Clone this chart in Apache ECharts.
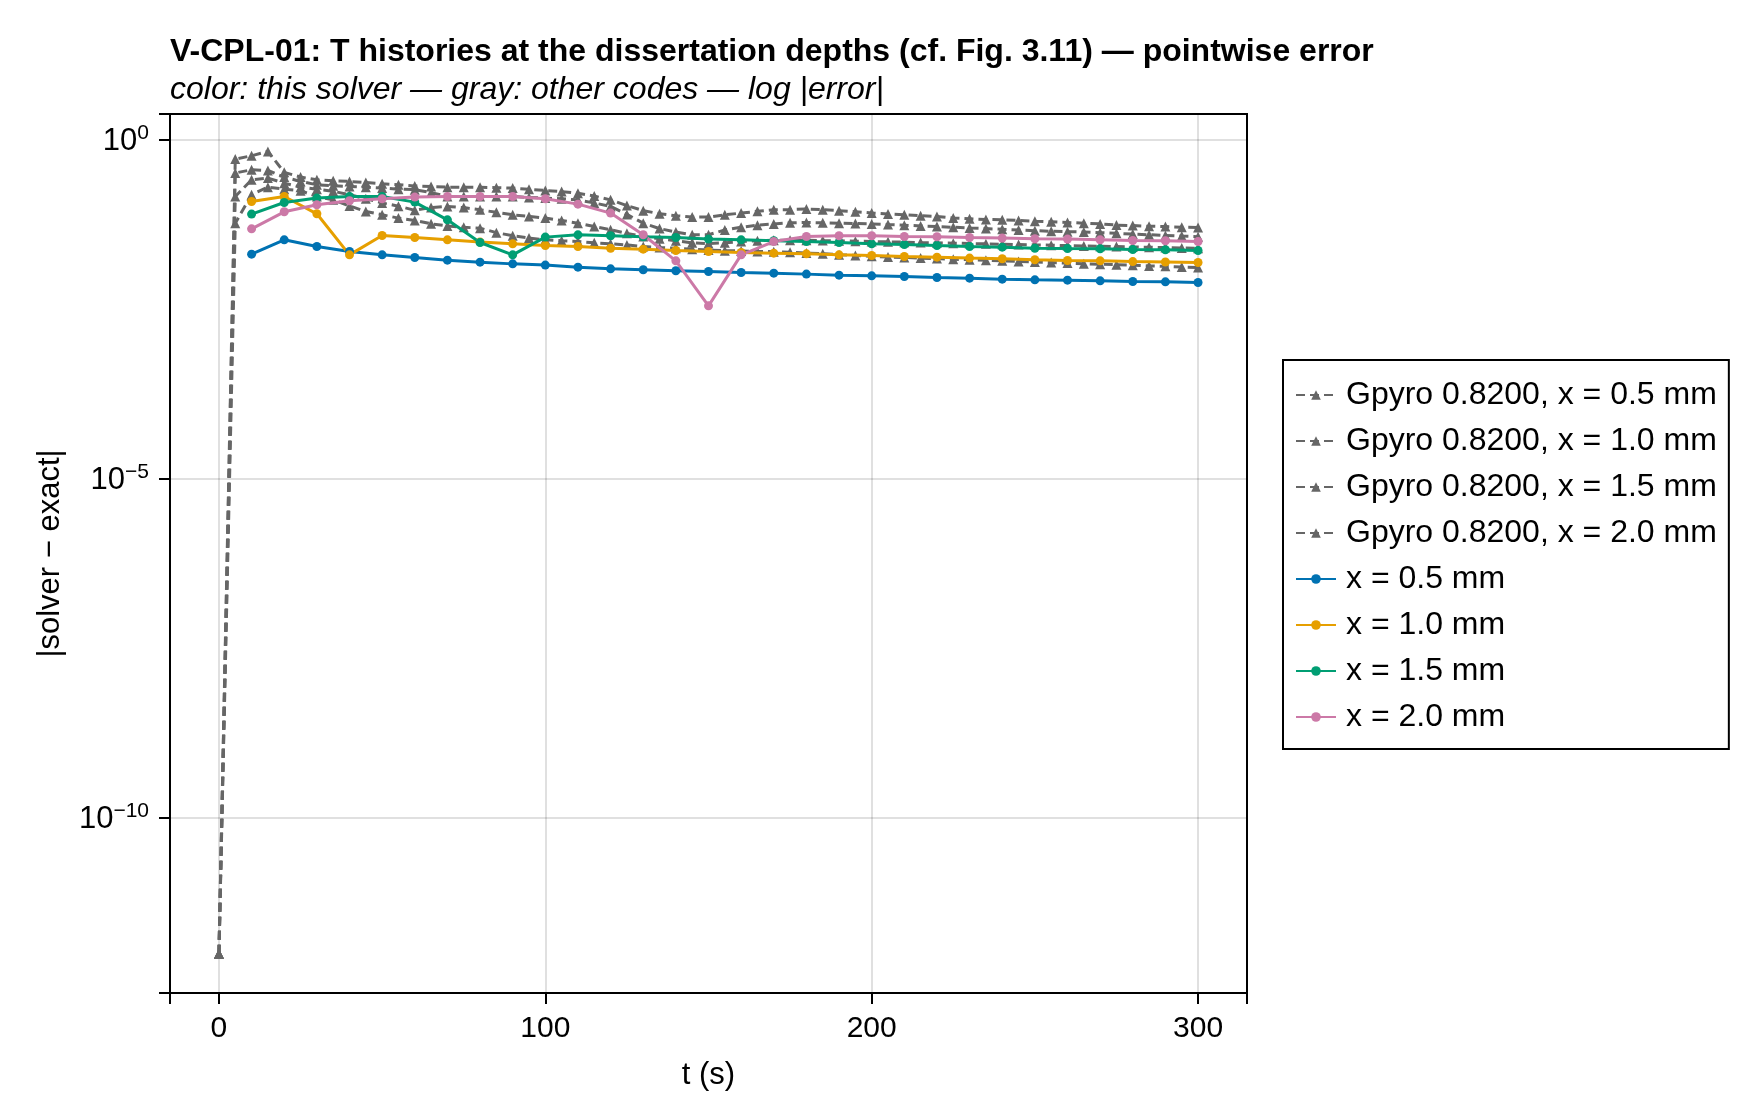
<!DOCTYPE html>
<html>
<head>
<meta charset="utf-8">
<title>V-CPL-01 pointwise error</title>
<script src="https://cdn.jsdelivr.net/npm/echarts@6/dist/echarts.min.js"></script>
<style>
  html, body { margin: 0; padding: 0; background: #fff; }
  #chart { width: 1760px; height: 1120px; }
</style>
</head>
<body>
<div id="chart"></div>
<script>
// time samples (s)
const tGpyro = [
  0, 5, 10, 15, 20, 25, 30, 35, 40, 45, 50, 55, 60, 65, 70, 75, 80, 85, 90, 95,
  100, 105, 110, 115, 120, 125, 130, 135, 140, 145, 150, 155, 160, 165, 170, 175, 180, 185, 190, 195,
  200, 205, 210, 215, 220, 225, 230, 235, 240, 245, 250, 255, 260, 265, 270, 275, 280, 285, 290, 295, 300
]
const tSolver = [
  10, 20, 30, 40, 50, 60, 70, 80, 90, 100, 110, 120, 130, 140, 150,
  160, 170, 180, 190, 200, 210, 220, 230, 240, 250, 260, 270, 280, 290, 300
]

// |solver - exact|, other code (gray)
const gpyro05 = [
  1e-12, 0.519, 0.581, 0.673, 0.331, 0.282, 0.257, 0.248, 0.243, 0.234, 0.224, 0.217, 0.209, 0.204, 0.200, 0.200, 0.199, 0.197, 0.194, 0.186,
  0.179, 0.172, 0.163, 0.148, 0.130, 0.107, 0.0902, 0.0813, 0.0759, 0.0724, 0.0724, 0.0783, 0.083, 0.0881, 0.0933, 0.0933, 0.0955, 0.0933, 0.0902, 0.0871,
  0.0832, 0.0804, 0.0785, 0.0759, 0.0741, 0.070, 0.0684, 0.0668, 0.0661, 0.0646, 0.0631, 0.0617, 0.0603, 0.0589, 0.0575, 0.0552, 0.0543, 0.0531, 0.0525, 0.0515, 0.0509
]
const gpyro10 = [
  1e-12, 0.324, 0.361, 0.353, 0.282, 0.243, 0.217, 0.210, 0.205, 0.200, 0.194, 0.187, 0.184, 0.166, 0.146, 0.146, 0.146, 0.146, 0.146, 0.141,
  0.138, 0.135, 0.130, 0.117, 0.104, 0.0794, 0.0589, 0.049, 0.0437, 0.0398, 0.0398, 0.0468, 0.0513, 0.055, 0.0575, 0.0596, 0.0603, 0.0596, 0.0589, 0.0582,
  0.0575, 0.0562, 0.055, 0.0537, 0.0525, 0.0513, 0.0501, 0.049, 0.0479, 0.0468, 0.0457, 0.0447, 0.0442, 0.0437, 0.0427, 0.0417, 0.0407, 0.0398, 0.0389, 0.038, 0.0372
]
const gpyro15 = [
  1e-12, 0.146, 0.257, 0.272, 0.229, 0.200, 0.186, 0.174, 0.155, 0.135, 0.117, 0.105, 0.0912, 0.100, 0.104, 0.100, 0.0929, 0.0851, 0.0783, 0.0741,
  0.070, 0.0646, 0.0589, 0.0525, 0.0471, 0.0417, 0.0375, 0.0347, 0.0324, 0.0302, 0.0295, 0.0302, 0.0316, 0.0324, 0.0331, 0.0331, 0.0331, 0.0327, 0.0324, 0.032,
  0.0316, 0.0313, 0.0309, 0.0305, 0.0302, 0.0299, 0.0295, 0.0292, 0.0288, 0.0285, 0.0282, 0.0279, 0.0275, 0.0272, 0.0269, 0.0266, 0.0263, 0.026, 0.0257, 0.0254, 0.0252
]
const gpyro20 = [
  1e-12, 0.0589, 0.155, 0.200, 0.187, 0.177, 0.146, 0.130, 0.106, 0.0877, 0.0783, 0.070, 0.0646, 0.0577, 0.0537, 0.0513, 0.0498, 0.0427, 0.0384, 0.0355,
  0.0335, 0.0324, 0.0316, 0.0302, 0.0292, 0.0282, 0.0267, 0.0257, 0.0251, 0.0243, 0.0237, 0.0232, 0.0229, 0.0226, 0.0224, 0.0219, 0.0214, 0.0209, 0.0202, 0.0197,
  0.0191, 0.0187, 0.0184, 0.018, 0.0177, 0.0173, 0.017, 0.0167, 0.0164, 0.0161, 0.0158, 0.0155, 0.0152, 0.0149, 0.0146, 0.0144, 0.0141, 0.0138, 0.0136, 0.0133, 0.0131
]

// |solver - exact|, this solver
const err05 = [
  0.0206, 0.0335, 0.0267, 0.0225, 0.0201, 0.0184, 0.0168, 0.0157, 0.0148, 0.0142, 0.01324, 0.0125, 0.0121, 0.0117, 0.01143,
  0.01104, 0.0108, 0.01045, 0.0101, 0.00986, 0.00964, 0.00931, 0.00912, 0.00881, 0.00861, 0.00851, 0.00832, 0.00813, 0.00804, 0.00787
]
const err10 = [
  0.123, 0.146, 0.081, 0.0201, 0.0388, 0.0363, 0.0335, 0.031, 0.0292, 0.0276, 0.0267, 0.0252, 0.0244, 0.0233, 0.0225,
  0.0218, 0.0213, 0.0208, 0.0201, 0.0197, 0.019, 0.0186, 0.018, 0.0176, 0.017, 0.0166, 0.0164, 0.016, 0.0158, 0.0155
]
const err15 = [
  0.0802, 0.119, 0.138, 0.146, 0.146, 0.1205, 0.066, 0.0306, 0.0201, 0.0367, 0.0397, 0.0384, 0.0372, 0.0362, 0.0343,
  0.0335, 0.0324, 0.0316, 0.0306, 0.0292, 0.0286, 0.0276, 0.0267, 0.0261, 0.0252, 0.0249, 0.0247, 0.0241, 0.0239, 0.0233
]
const err20 = [
  0.0486, 0.0867, 0.11, 0.126, 0.135, 0.143, 0.146, 0.146, 0.146, 0.135, 0.1125, 0.083, 0.0398, 0.0164, 0.00356,
  0.0201, 0.0316, 0.0375, 0.0384, 0.0384, 0.0375, 0.0372, 0.0362, 0.0355, 0.0347, 0.0343, 0.0335, 0.0327, 0.0324, 0.0316
]

const xTicks = [0, 100, 200, 300]
const yTickExponents = [-10, -5, 0]

const FONT = '"Liberation Sans", Arial, Helvetica, sans-serif'
const GRAY = '#666666'
const wong = ['#0072B2', '#E69F00', '#009E73', '#CC79A7']

// y axis is drawn in log10 units, labels show 10^n
function toLog(ts, vals) {
  return ts.map((t, i) => [t, Math.log10(vals[i])])
}

function grayLine(name, vals) {
  return {
    name: name,
    type: 'line',
    data: toLog(tGpyro, vals),
    symbol: 'triangle',
    symbolSize: 10,
    showSymbol: true,
    lineStyle: { color: GRAY, width: 3, type: [9, 5] },
    itemStyle: { color: GRAY },
    z: 2
  }
}

function solverLine(name, vals, color) {
  return {
    name: name,
    type: 'line',
    data: toLog(tSolver, vals),
    symbol: 'circle',
    symbolSize: 9,
    showSymbol: true,
    lineStyle: { color: color, width: 3 },
    itemStyle: { color: color },
    z: 3
  }
}

const chart = echarts.init(document.getElementById('chart'))

chart.setOption({
  animation: false,
  backgroundColor: '#fff',
  textStyle: { fontFamily: FONT },
  title: [
    {
      text: 'V-CPL-01: T histories at the dissertation depths (cf. Fig. 3.11) — pointwise error',
      left: 170,
      top: 36.5,
      padding: 0,
      textStyle: { fontSize: 32, fontWeight: 'bold', color: '#000', fontFamily: FONT }
    },
    {
      text: 'color: this solver — gray: other codes — log |error|',
      left: 170,
      top: 74,
      padding: 0,
      textStyle: { fontSize: 32, fontWeight: 'normal', fontStyle: 'italic', color: '#000', fontFamily: FONT }
    }
  ],
  legend: {
    orient: 'vertical',
    left: 1283,
    top: 360,
    padding: [19, 12, 16, 12],
    itemGap: 14,
    itemWidth: 40,
    itemHeight: 12,
    borderColor: '#000',
    borderWidth: 2,
    backgroundColor: '#fff',
    textStyle: { fontSize: 32, color: '#000', fontFamily: FONT, lineHeight: 32, padding: [0, 0, 0, 5] },
    data: [
      'Gpyro 0.8200, x = 0.5 mm',
      'Gpyro 0.8200, x = 1.0 mm',
      'Gpyro 0.8200, x = 1.5 mm',
      'Gpyro 0.8200, x = 2.0 mm',
      'x = 0.5 mm',
      'x = 1.0 mm',
      'x = 1.5 mm',
      'x = 2.0 mm'
    ]
  },
  grid: {
    left: 170,
    right: 513,
    top: 114,
    bottom: 127,
    show: true,
    borderColor: '#000',
    borderWidth: 2,
    backgroundColor: 'transparent'
  },
  xAxis: {
    type: 'value',
    position: 'bottom',
    min: -15,
    max: 315,
    minInterval: 100,
    maxInterval: 100,
    name: 't (s)',
    nameLocation: 'middle',
    nameGap: 67,
    nameTextStyle: { fontSize: 31, color: '#000', fontFamily: FONT },
    axisLine: { show: true, onZero: false, lineStyle: { color: '#000', width: 2 } },
    axisTick: {
      show: true,
      inside: false,
      length: 11,
      lineStyle: { color: '#000', width: 2 }
    },
    axisLabel: {
      fontSize: 30,
      color: '#000',
      margin: 21,
      fontFamily: FONT,
      formatter: function(v) {
        return xTicks.indexOf(v) >= 0 ? String(v) : ''
      }
    },
    splitLine: { show: true, lineStyle: { color: 'rgba(0,0,0,0.12)', width: 2 } }
  },
  yAxis: {
    type: 'value',
    position: 'left',
    min: -12.58,
    max: 0.38,
    minInterval: 5,
    maxInterval: 5,
    name: '|solver − exact|',
    nameLocation: 'middle',
    nameGap: 104,
    nameTextStyle: { fontSize: 31, color: '#000', fontFamily: FONT },
    axisLine: { show: true, onZero: false, lineStyle: { color: '#000', width: 2 } },
    axisTick: {
      show: true,
      inside: false,
      length: 11,
      lineStyle: { color: '#000', width: 2 }
    },
    axisLabel: {
      customValues: yTickExponents,
      margin: 21,
      color: '#000',
      formatter: function(v) {
        const n = Math.round(v)
        if (Math.abs(v - n) > 1e-6 || n % 5 !== 0) return ''
        return '{b|10}{s|' + (n < 0 ? '−' + (-n) : n) + '}'
      },
      rich: {
        b: { fontSize: 31, lineHeight: 34, verticalAlign: 'bottom', color: '#000', fontFamily: FONT },
        s: { fontSize: 21, lineHeight: 21, verticalAlign: 'top', color: '#000', fontFamily: FONT }
      }
    },
    splitLine: { show: true, lineStyle: { color: 'rgba(0,0,0,0.12)', width: 2 } }
  },
  series: [
    grayLine('Gpyro 0.8200, x = 0.5 mm', gpyro05),
    grayLine('Gpyro 0.8200, x = 1.0 mm', gpyro10),
    grayLine('Gpyro 0.8200, x = 1.5 mm', gpyro15),
    grayLine('Gpyro 0.8200, x = 2.0 mm', gpyro20),
    solverLine('x = 0.5 mm', err05, wong[0]),
    solverLine('x = 1.0 mm', err10, wong[1]),
    solverLine('x = 1.5 mm', err15, wong[2]),
    solverLine('x = 2.0 mm', err20, wong[3])
  ]
})
</script>
</body>
</html>
